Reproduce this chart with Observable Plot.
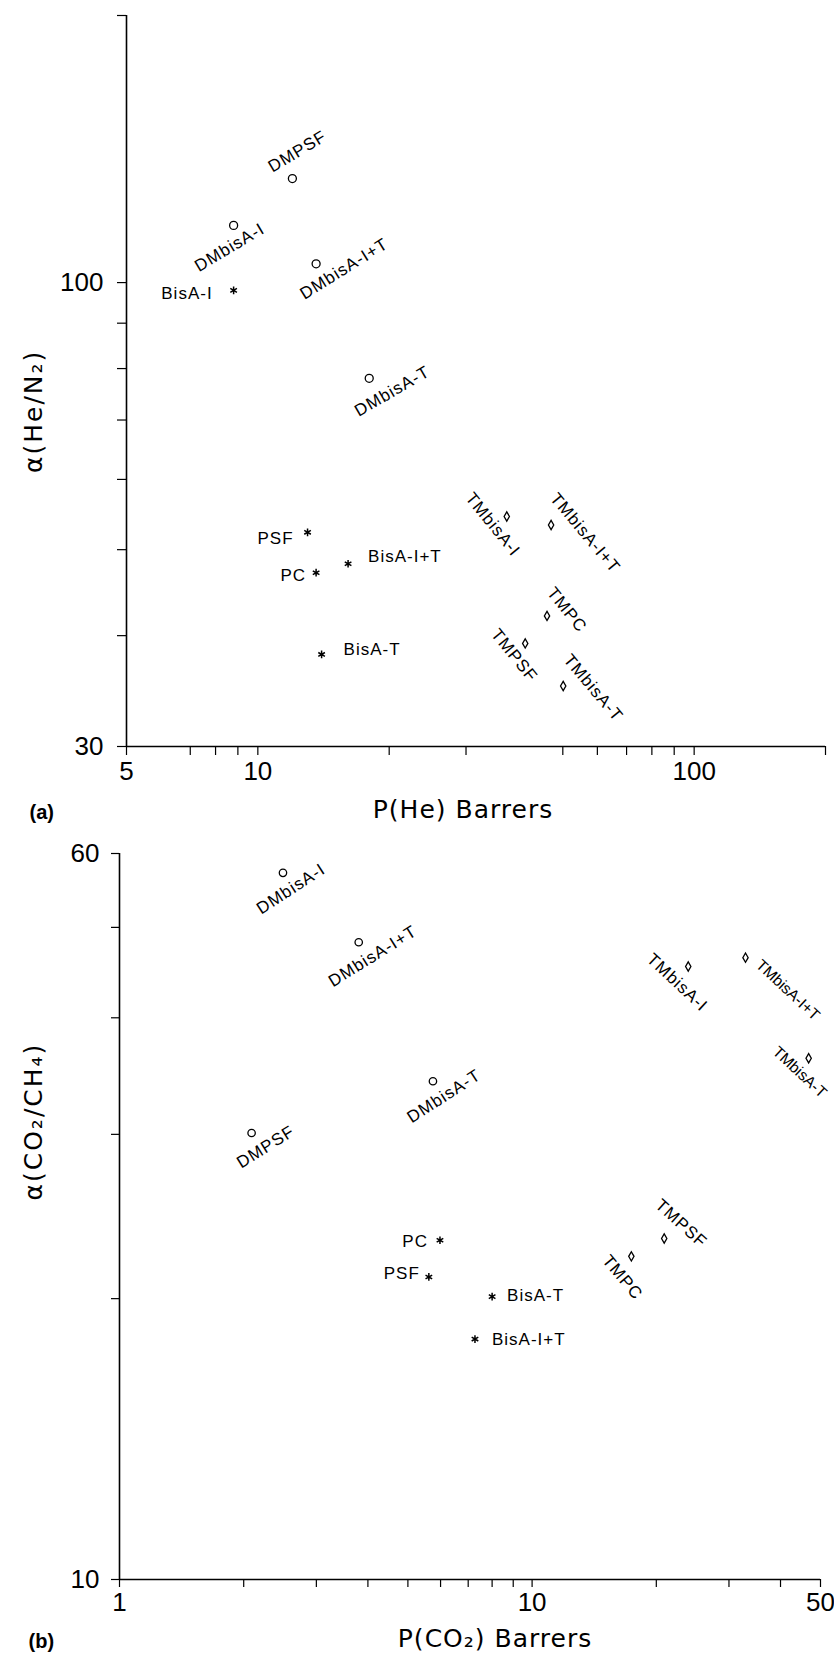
<!DOCTYPE html>
<html><head><meta charset="utf-8">
<script src="https://cdn.jsdelivr.net/npm/d3@7"></script>
<script src="https://cdn.jsdelivr.net/npm/@observablehq/plot@0.6"></script>
<style>
html,body{margin:0;padding:0;background:#fff;}
#chart svg{display:block;}
</style></head><body><div id="chart"></div>
<script>
// ---------- Panel (a): He/N2 selectivity vs He permeability ----------
const namesA = ["DMPSF","DMbisA-I","DMbisA-I+T","BisA-I","DMbisA-T","PSF","PC","BisA-I+T","BisA-T","TMbisA-I","TMbisA-I+T","TMPC","TMPSF","TMbisA-T"];
const pHe = [12.0, 8.8, 13.6, 8.8, 18.0, 13.0, 13.6, 16.1, 14.0, 37.2, 47.0, 46.0, 41.0, 50.1];
const alphaHeN2 = [131, 116, 105, 98, 78, 52.3, 47.1, 48.2, 38.1, 54.5, 53.3, 42.1, 39.2, 35.1];
const xTicksA = [5,7,8,9,10,20,30,50,60,70,80,90,100,200];
const xTickLabelsA = [5,10,100];
const yTicksA = [30,40,50,60,70,80,90,100,200];
const yTickLabelsA = [30,100];

// ---------- Panel (b): CO2/CH4 selectivity vs CO2 permeability ----------
const namesB = ["DMbisA-I","DMbisA-I+T","DMPSF","DMbisA-T","TMbisA-I","TMbisA-I+T","TMbisA-T","TMPSF","TMPC","PC","PSF","BisA-T","BisA-I+T"];
const pCO2 = [2.49, 3.80, 2.09, 5.75, 23.9, 32.9, 46.8, 20.9, 17.4, 5.98, 5.62, 8.0, 7.27];
const alphaCO2CH4 = [57.2, 48.2, 30.1, 34.2, 45.4, 46.4, 36.2, 23.2, 22.2, 23.1, 21.1, 20.1, 18.1];
const xTicksB = [1,2,3,4,5,6,7,8,9,10,20,30,40,50];
const xTickLabelsB = [1,10,50];
const yTicksB = [10,20,30,40,50,60];
const yTickLabelsB = [10,60];

// label placement (layout only)
const layoutA = {
  "DMPSF": {dx:5, dy:-27, rotate:-31},
  "DMbisA-I": {dx:-4, dy:22, rotate:-31},
  "DMbisA-I+T": {dx:28, dy:5, rotate:-32},
  "BisA-I": {dx:-21, dy:3, anchor:"end"},
  "DMbisA-T": {dx:23, dy:13, rotate:-30},
  "PSF": {dx:-14, dy:6, anchor:"end"},
  "PC": {dx:-10, dy:3, anchor:"end"},
  "BisA-I+T": {dx:20, dy:-7, anchor:"start"},
  "BisA-T": {dx:22, dy:-5, anchor:"start"},
  "TMbisA-I": {dx:-14, dy:8, rotate:51},
  "TMbisA-I+T": {dx:34, dy:8, rotate:50},
  "TMPC": {dx:20, dy:-6, rotate:51},
  "TMPSF": {dx:-11, dy:12, rotate:51},
  "TMbisA-T": {dx:30, dy:2, rotate:50}
};
const layoutB = {
  "DMbisA-I": {dx:8, dy:16, rotate:-33},
  "DMbisA-I+T": {dx:14, dy:14, rotate:-32},
  "DMPSF": {dx:14, dy:14, rotate:-32},
  "DMbisA-T": {dx:11, dy:15, rotate:-33},
  "TMbisA-I": {dx:-11, dy:16, rotate:43},
  "TMbisA-I+T": {dx:13, dy:5, rotate:43, anchor:"start", size:15.5, tight:true},
  "TMbisA-T": {dx:-9, dy:14, rotate:43, size:15.5, tight:true},
  "TMPSF": {dx:17, dy:-15, rotate:42},
  "TMPC": {dx:-9, dy:21, rotate:50},
  "PC": {dx:-12, dy:1, anchor:"end"},
  "PSF": {dx:-9, dy:-3, anchor:"end"},
  "BisA-T": {dx:15, dy:-1, anchor:"start"},
  "BisA-I+T": {dx:17, dy:0, anchor:"start"}
};

const FONT = "'Liberation Sans', Arial, sans-serif";
const WIDE = "'DejaVu Sans', Verdana, sans-serif";
const symbolOf = n => n.startsWith("DM") ? "circle" : n.startsWith("TM") ? "diamond" : "asterisk";

function panel(o) {
  const data = o.names.map((name, i) => ({name, x: o.xs[i], y: o.ys[i], sym: symbolOf(name)}));
  const marks = [
    Plot.ruleX([o.xDomain[0]], {strokeWidth: 1.6}),
    Plot.ruleY([o.yDomain[0]], {strokeWidth: 1.6}),
    Plot.axisX({ticks: o.xTicks, tickSize: o.tick, tickFormat: () => "", strokeWidth: 1.2, label: null}),
    Plot.axisY({ticks: o.yTicks, tickSize: o.tick, tickFormat: () => "", strokeWidth: 1.2, label: null}),
    Plot.text(o.xTickLabels, {x: d => d, text: d => String(d), frameAnchor: "bottom", dy: o.xLabDy, fontSize: 26}),
    Plot.text(o.yTickLabels, {y: d => d, text: d => String(d), frameAnchor: "left", textAnchor: "end", dx: o.yLabDx, fontSize: 26}),
    Plot.text([o.xTitle], {frameAnchor: "bottom", dx: o.xTitleDx, dy: o.xTitleDy, fontSize: 25, fontFamily: WIDE}),
    Plot.text([o.yTitle], {frameAnchor: "left", rotate: -90, dx: o.yTitleDx, dy: o.yTitleDy, fontSize: 25, fontFamily: WIDE}),
    Plot.text([o.tag], {frameAnchor: "bottom-left", dx: o.tagDx, dy: o.tagDy, fontSize: 20, fontWeight: "bold"}),
    Plot.dot(data.filter(d => d.sym === "circle"), {x: "x", y: "y", r: o.rCircle, stroke: "black", strokeWidth: 1.3, symbol: "circle"}),
    Plot.dot(data.filter(d => d.sym === "diamond"), {x: "x", y: "y", r: 2.8, stroke: "black", strokeWidth: 1.3, symbol: "diamond"}),
    Plot.dot(data.filter(d => d.sym === "asterisk"), {x: "x", y: "y", r: 3.6, stroke: "black", strokeWidth: 1.5, symbol: "asterisk"})
  ];
  for (const d of data) {
    const L = o.layout[d.name];
    marks.push(Plot.text([d], {x: "x", y: "y", text: "name", dx: L.dx, dy: L.dy, rotate: L.rotate || 0,
      textAnchor: L.anchor || "middle", fontSize: L.size || 17}));
  }
  const svg = Plot.plot({
    width: 834, height: o.height,
    marginTop: o.mt, marginBottom: o.mb, marginLeft: o.ml, marginRight: o.mr,
    x: {type: "log", domain: o.xDomain, label: null},
    y: {type: "log", domain: o.yDomain, label: null},
    style: {fontFamily: FONT, background: "white", color: "black", overflow: "visible"},
    marks
  });
  // letter spacing to mimic the wide plotter lettering
  d3.select(svg).selectAll("text").each(function() {
    const t = this.textContent;
    if (t === o.xTitle) this.style.letterSpacing = "1px";
    else if (t === o.yTitle) this.style.letterSpacing = "2px";
    else if (o.names.includes(t) && !o.layout[t].tight) this.style.letterSpacing = "1px";
  });
  return svg;
}

const chart = document.getElementById("chart");
chart.appendChild(panel({
  names: namesA, xs: pHe, ys: alphaHeN2, layout: layoutA,
  xDomain: [5, 200], yDomain: [30, 200],
  xTicks: xTicksA, yTicks: yTicksA, xTickLabels: xTickLabelsA, yTickLabels: yTickLabelsA,
  height: 840, mt: 15, mb: 94, ml: 126, mr: 9, tick: 9,
  xLabDy: 33, yLabDx: -23,
  xTitle: "P(He) Barrers", xTitleDx: -13, xTitleDy: 71,
  yTitle: "α(He/N₂)", yTitleDx: -93, yTitleDy: 92,
  tag: "(a)", tagDx: -97, tagDy: 72, rCircle: 4
}));
chart.appendChild(panel({
  names: namesB, xs: pCO2, ys: alphaCO2CH4, layout: layoutB,
  xDomain: [1, 50], yDomain: [10, 60],
  xTicks: xTicksB, yTicks: yTicksB, xTickLabels: xTickLabelsB, yTickLabels: yTickLabelsB,
  height: 827, mt: 13, mb: 88, ml: 119, mr: 14, tick: 8,
  xLabDy: 31, yLabDx: -20,
  xTitle: "P(CO₂) Barrers", xTitleDx: 25, xTitleDy: 67,
  yTitle: "α(CO₂/CH₄)", yTitleDx: -86, yTitleDy: -16,
  tag: "(b)", tagDx: -91, tagDy: 68, rCircle: 3.7
}));
</script></body></html>
